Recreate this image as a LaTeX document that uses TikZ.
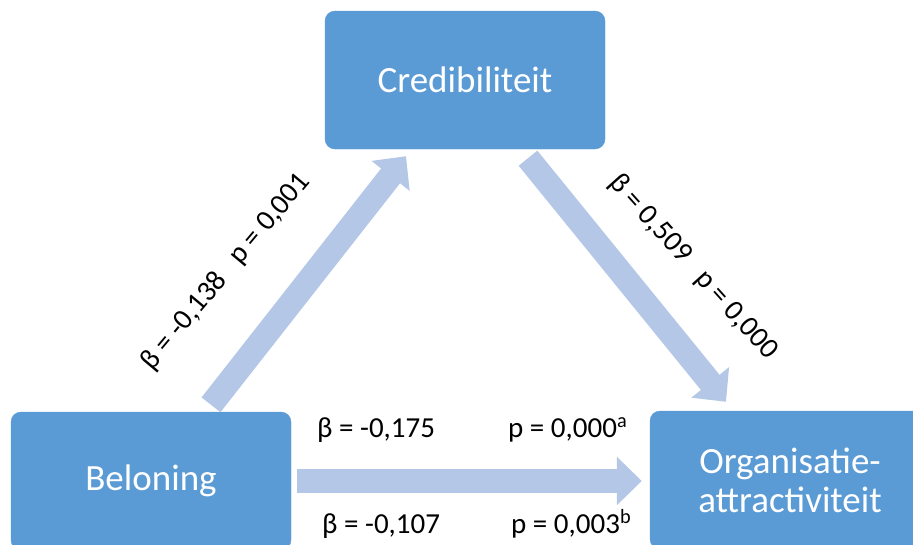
\documentclass[tikz,border=0pt]{standalone}
\usepackage{fontspec}
\setmainfont{Carlito}
\usetikzlibrary{arrows.meta}
\definecolor{boxblue}{HTML}{5B9BD5}
\definecolor{arrowblue}{HTML}{B4C7E7}
\tikzset{
  varbox/.style={fill=boxblue, draw=boxblue, rounded corners=10pt,
    minimum width=280pt, minimum height=138pt, inner sep=0pt,
    text=white, align=center, font=\fontsize{37}{39}\selectfont},
  patharrow/.style={draw=arrowblue, line width=24pt,
    -{Triangle[width=47pt,length=25pt]}},
  coeflabel/.style={inner sep=0pt, font=\fontsize{29}{32}\selectfont},
}
\begin{document}
\begin{tikzpicture}[x=1pt,y=-1pt]
                \useasboundingbox (0,0) rectangle (913,544);
                
                % Marking variable boxes
                \node [varbox] (cred) at (465,80) {Credibiliteit};%
                \node [varbox] (bel) at (151,481) {Beloning};%
                \node [varbox] (org) at (790,480) {Organisatie-\\attractiviteit};%
                
                % Arrow ends
                \coordinate (belN) at ([shift={(60,-7)}]bel.north);%
                \coordinate (credSL) at ([shift={(-59,7)}]cred.south);%
                \coordinate (credSR) at ([shift={(63,9)}]cred.south);%
                \coordinate (orgN) at ([shift={(-64,-9)}]org.north);%
                \coordinate (belE) at ([shift={(6,0)}]bel.east);%
                \coordinate (orgW) at ([shift={(-8,0)}]org.west);%
                
                % Drawing path Beloning Credibiliteit
                \draw [patharrow] (belN) -- (credSL);%
                \node [coeflabel, rotate=50] (lblBC) at (226,272) {β = -0,138\ \ \ p = 0,001};%
                
                % Drawing path Credibiliteit Organisatie
                \draw [patharrow] (credSR) -- (orgN);%
                \node [coeflabel, rotate=-48] (lblCO) at (693,267) {β = 0,509\ \ \ p = 0,000};%
                
                % Drawing path Beloning Organisatie
                \draw [patharrow] (belE) -- (belE -| orgW);%
                \node [coeflabel, anchor=base west] (lblBOb) at (317,437) {β = -0,175};%
                \node [coeflabel, anchor=base west] (lblBOp) at (508,437) {p = 0,000\textsuperscript{a}};%
                \node [coeflabel, anchor=base west] (lblBOb2) at (322,533) {β = -0,107};%
                \node [coeflabel, anchor=base west] (lblBOp2) at (511,533) {p = 0,003\textsuperscript{b}};%
\end{tikzpicture}
\end{document}
